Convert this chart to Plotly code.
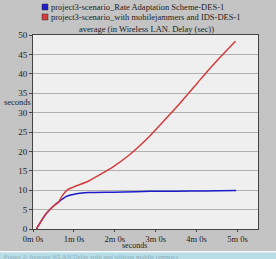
import plotly.graph_objects as go

# time in seconds
blue_x = [5, 20, 32, 40, 49, 64, 81, 118, 150, 171, 210, 250, 298]
blue_y = [0.0, 4.1, 6.2, 7.3, 8.4, 9.1, 9.4, 9.5, 9.6, 9.7, 9.75, 9.8, 9.9]

red_x = [5, 20, 32, 37, 43, 49, 59, 81, 93, 118, 142, 171, 181, 210, 240, 254, 279, 297]
red_y = [0.0, 4.1, 6.2, 6.8, 8.6, 9.9, 10.8, 12.3, 13.5, 16.1, 19.2, 23.9, 25.8, 31.3, 37.4, 40.3, 45.1, 48.4]

name_blue = "project3-scenario_Rate Adaptation Scheme-DES-1"
name_red = "project3-scenario_with mobilejammers and IDS-DES-1"

tick_vals = [0, 60, 120, 180, 240, 300]
tick_text = ["0m 0s", "1m 0s", "2m 0s", "3m 0s", "4m 0s", "5m 0s"]
y_ticks = [0, 5, 10, 15, 20, 25, 30, 35, 40, 45, 50]

BLUE = "#1c1cc8"
RED = "#d43c3c"
FONT = "Liberation Serif"
W, H = 276, 259
L, R, T, B = 33, 18, 35, 30
PW, PH = W - L - R, H - T - B


def px(x):
    return (x - L) / PW


def py(y):
    return (H - B - y) / PH


fig = go.Figure()
fig.add_trace(go.Scatter(x=blue_x, y=blue_y, mode="lines", name=name_blue,
                         line=dict(color=BLUE, width=1.5, shape="spline", smoothing=0.8), showlegend=False))
fig.add_trace(go.Scatter(x=red_x, y=red_y, mode="lines", name=name_red,
                         line=dict(color=RED, width=1.5, shape="spline", smoothing=0.8), showlegend=False))

fig.update_layout(
    width=W, height=H,
    margin=dict(l=L, r=R, t=T, b=B),
    paper_bgcolor="#c4c4c4",
    plot_bgcolor="#efefef",
    font=dict(family=FONT, size=9, color="#222222"),
    showlegend=False,
)
fig.update_xaxes(range=[0, 330], tickvals=tick_vals, ticktext=tick_text, showgrid=False,
                 ticks="outside", ticklen=2, tickcolor="#444", showline=True, linecolor="#444",
                 linewidth=1, mirror=True, zeroline=False, automargin=False,
                 tickfont=dict(family=FONT, size=8.5))
fig.update_yaxes(range=[0, 50], tickvals=y_ticks, showgrid=True, gridcolor="#b0b0b0", gridwidth=1,
                 ticks="outside", ticklen=3, tickcolor="#444", showline=True, linecolor="#444",
                 linewidth=1, mirror=True, zeroline=False, automargin=False,
                 tickfont=dict(family=FONT, size=9))

# legend drawn as squares + labels
for i, (name, col) in enumerate([(name_blue, BLUE), (name_red, RED)]):
    yc = 7 + i * 10
    fig.add_shape(type="rect", xref="paper", yref="paper", x0=px(42), x1=px(48),
                  y0=py(yc + 3), y1=py(yc - 3), fillcolor=col, line=dict(color="#333", width=0.5))
    fig.add_annotation(text=name, xref="paper", yref="paper", x=px(49), xanchor="left",
                       y=py(yc), yanchor="middle", showarrow=False,
                       font=dict(family=FONT, size=8.5, color="#222"))

fig.add_annotation(text="average (in Wireless LAN. Delay (sec))", xref="paper", yref="paper",
                   x=px(146), xanchor="center", y=py(29), yanchor="middle", showarrow=False,
                   font=dict(family=FONT, size=8.5, color="#222"))
fig.add_annotation(text="seconds", xref="paper", yref="paper", x=px(2), xanchor="left",
                   y=py(102), yanchor="middle", showarrow=False,
                   font=dict(family=FONT, size=8.5, color="#222"))
fig.add_annotation(text="seconds", xref="paper", yref="paper", x=px(134), xanchor="center",
                   y=py(246), yanchor="middle", showarrow=False, borderpad=0,
                   font=dict(family=FONT, size=8, color="#222"))
# caption strip at the bottom
fig.add_shape(type="rect", xref="paper", yref="paper", x0=px(0), x1=px(W),
              y0=py(H), y1=py(251), fillcolor="#f4f8f8", line=dict(width=0), layer="below")
fig.add_shape(type="rect", xref="paper", yref="paper", x0=px(0), x1=px(W),
              y0=py(H), y1=py(252.5), fillcolor="#b6dde8", line=dict(width=0), layer="below")
fig.add_annotation(text="Figure 2: Average WLAN Delay with and without mobile jammers", xref="paper", yref="paper",
                   x=px(2), xanchor="left", y=py(256), yanchor="middle", showarrow=False,
                   font=dict(family=FONT, size=6.5, color="#8fb0ba"))

fig.write_html("out.html")
